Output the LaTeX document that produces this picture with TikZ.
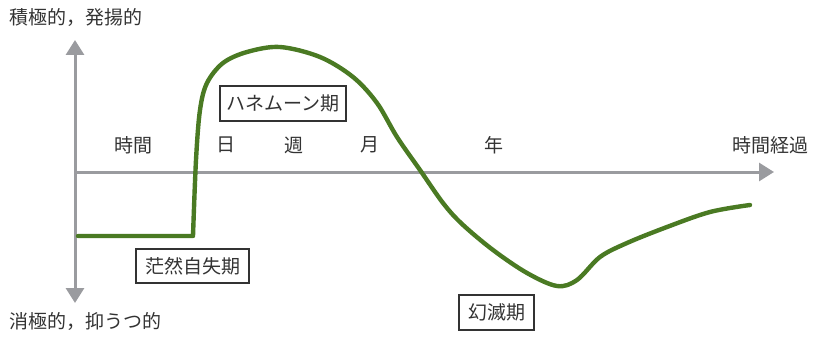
\documentclass[tikz,border=0pt]{standalone}
\usepackage{fontspec}
\setmainfont{Noto Sans CJK JP}
\usetikzlibrary{arrows.meta}
\definecolor{axisgray}{HTML}{9A9B9F}
\definecolor{curvegreen}{HTML}{4A7A23}
\definecolor{textgray}{HTML}{333333}
\tikzset{
  axisline/.style={draw=axisgray, line width=3pt, -{Triangle[length=15pt,width=18pt]}},
  curveline/.style={draw=curvegreen, line width=4.4pt, line cap=round, line join=round},
  lbl/.style={text=textgray, font=\fontsize{19}{21}\selectfont, inner sep=0pt},
  phasebox/.style={lbl, draw=textgray, line width=1.3pt, minimum height=35pt, fill=white},
}
\begin{document}
\begin{tikzpicture}[x=1pt,y=-1pt]
\useasboundingbox (0,0) rectangle (815,337);
% axes
\coordinate (vbot) at (75,303);
\coordinate (vtop) at (75,40);
\coordinate (hstart) at (75,172);
\coordinate (hend) at (774,172);
\coordinate (vmid) at (75,172);
\draw[axisline] (vmid) -- (vtop);
\draw[axisline] (vmid) -- (vbot);
\draw[axisline] (hstart) -- (hend);
% curve
\draw[curveline] (78,236) -- plot[smooth, tension=0.55] coordinates {
  (193,236) (196,160) (200,110) (207,83) (223,63) (247,52) (280,47)
  (320,57) (353,77) (377,103) (397,137) (420,170) (443,203) (462,224)
  (493,250) (527,273) (557,286) (577,280) (600,257) (627,243)
  (667,227) (710,212) (750,205)};
% labels
\node[lbl, anchor=west] (pos) at (9,17) {積極的，発揚的};
\node[lbl, anchor=west] (neg) at (9,321) {消極的，抑うつ的};
\node[lbl] (t0) at (133,145) {時間};
\node[lbl] (t1) at (226,145) {日};
\node[lbl] (t2) at (294,145) {週};
\node[lbl] (t3) at (370,145) {月};
\node[lbl] (t4) at (494,145) {年};
\node[lbl] (t5) at (770,145) {時間経過};
% phase boxes
\node[phasebox, minimum width=126pt] (honey) at (283,103.5) {ハネムーン期};
\node[phasebox, minimum width=113pt, minimum height=34pt] (shock) at (192.5,266) {茫然自失期};
\node[phasebox, minimum width=75pt] (disil) at (496.5,312.5) {幻滅期};
\end{tikzpicture}
\end{document}
